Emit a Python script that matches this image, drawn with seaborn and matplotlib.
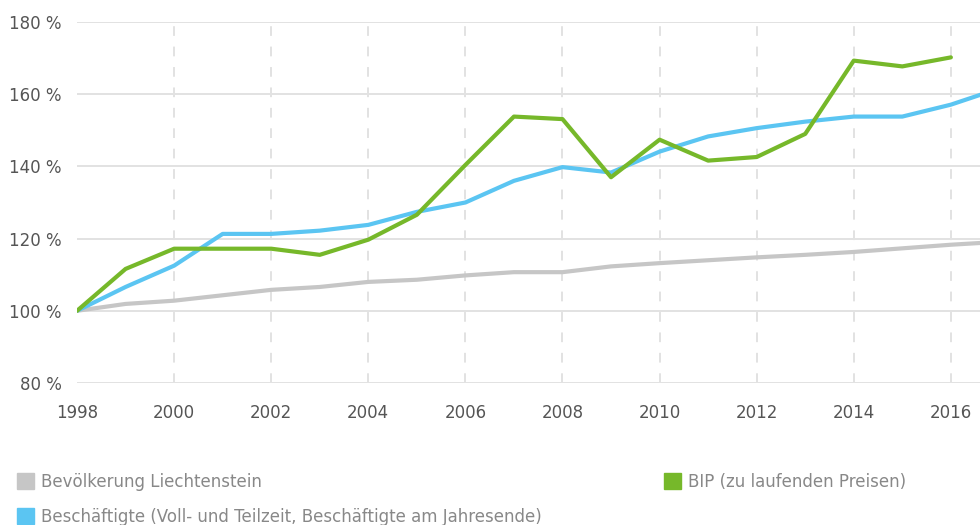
import numpy as np
import pandas as pd
import seaborn as sns
import matplotlib.pyplot as plt

# Index values (1998 = 100 %)
years = list(range(1998, 2018))
bevoelkerung = [100, 101.9, 102.8, 104.3, 105.8, 106.6, 108.0, 108.6, 109.8, 110.7,
                110.7, 112.3, 113.2, 114.0, 114.8, 115.5, 116.3, 117.3, 118.3, 119.1]
beschaeftigte = [100, 106.6, 112.5, 121.3, 121.3, 122.2, 123.8, 127.4, 130.0, 136.0,
                 139.8, 138.3, 144.1, 148.3, 150.6, 152.4, 153.8, 153.8, 157.1, 161.6]
bip = [100, 111.6, 117.2, 117.2, 117.2, 115.5, 119.7, 126.6, 140.4, 153.8,
       153.1, 137.0, 147.4, 141.6, 142.6, 149.0, 169.3, 167.7, 170.2]

labels = ["Bevölkerung Liechtenstein",
          "Beschäftigte (Voll- und Teilzeit, Beschäftigte am Jahresende)",
          "BIP (zu laufenden Preisen)"]
colors = ["#c6c6c6", "#5bc5f2", "#76b82a"]

rows = []
for lab, vals in zip(labels, [bevoelkerung, beschaeftigte, bip]):
    for y, v in zip(years, vals):
        rows.append({"Jahr": y, "Wert": v, "Reihe": lab})
df = pd.DataFrame(rows)

sns.set_style("white")
plt.rcParams['font.family'] = ['DejaVu Sans']

fig = plt.figure(figsize=(9.8, 5.25), dpi=100)
ax = fig.add_axes([0.0786, 0.2705, 0.9214, 0.6876])

sns.lineplot(data=df, x="Jahr", y="Wert", hue="Reihe", hue_order=labels,
             palette=colors, linewidth=3, ax=ax, legend=False, zorder=3)

ax.set_xlim(1998, 2016.6)
ax.set_ylim(80, 180)
ax.set_xticks(range(1998, 2017, 2))
ax.set_yticks(range(80, 181, 20))
ax.set_yticklabels([f"{v} %" for v in range(80, 181, 20)])
ax.set_xlabel("")
ax.set_ylabel("")
for s in ax.spines.values():
    s.set_visible(False)

ax.yaxis.grid(True, color="#e2e2e2", linewidth=1.4, linestyle="-")
ax.xaxis.grid(True, color="#e2e2e2", linewidth=1.4, linestyle=(0, (5, 5.5)))
ax.set_axisbelow(True)
ax.tick_params(axis="x", length=9, width=1.4, color="#e2e2e2", pad=6,
               labelsize=12, labelcolor="#555555")
ax.tick_params(axis="y", length=0, pad=11, labelsize=12, labelcolor="#555555")
# no dashed line on the first year, only the tick
ax.xaxis.get_major_ticks()[0].gridline.set_visible(False)

handles = [plt.Rectangle((0, 0), 1, 1, color=c) for c in colors]
leg = fig.legend(handles, labels, ncol=2, loc="lower left",
                 bbox_to_anchor=(0.002, -0.03), frameon=False,
                 handlelength=1.05, handleheight=1.05, handletextpad=0.4,
                 columnspacing=7.3, labelspacing=1.03, fontsize=12)
for t in leg.get_texts():
    t.set_color("#888888")

fig.savefig("out.png", dpi=100)
